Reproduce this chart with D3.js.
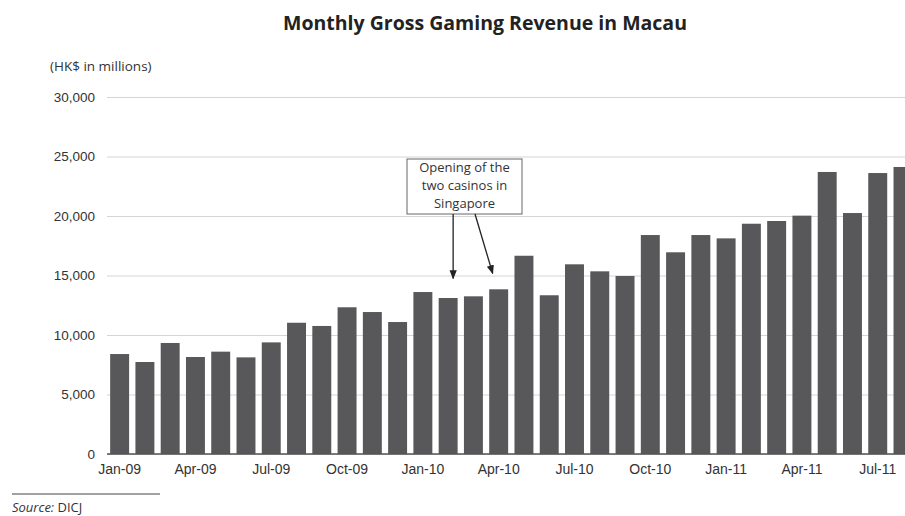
<!DOCTYPE html>
<html lang="en">
<head>
<meta charset="UTF-8">
<title>Monthly Gross Gaming Revenue in Macau</title>
<style>
  html, body { margin: 0; padding: 0; background: #fff; }
  svg { display: block; font-family: "Open Sans", "Noto Sans", sans-serif; }
</style>
</head>
<body>
<div id="chart"></div>
<script src="https://d3js.org/d3.v7.min.js"></script>
<script>
// months shown, Jan-09 .. Aug-11
const months = [
  'Jan-09','Feb-09','Mar-09','Apr-09','May-09','Jun-09','Jul-09','Aug-09','Sep-09','Oct-09','Nov-09','Dec-09',
  'Jan-10','Feb-10','Mar-10','Apr-10','May-10','Jun-10','Jul-10','Aug-10','Sep-10','Oct-10','Nov-10','Dec-10',
  'Jan-11','Feb-11','Mar-11','Apr-11','May-11','Jun-11','Jul-11','Aug-11'
];
// gross gaming revenue, HK$ millions
const revenue = [
  8400, 7730, 9330, 8150, 8600, 8120, 9380, 11030, 10760, 12330, 11930, 11090,
  13610, 13110, 13250, 13840, 16660, 13340, 15940, 15350, 14960, 18400, 16950, 18400,
  18120, 19350, 19580, 20030, 23700, 20250, 23610, 24120
];
const yTicks = [0, 5000, 10000, 15000, 20000, 25000, 30000];
const xTickLabels = ['Jan-09','Apr-09','Jul-09','Oct-09','Jan-10','Apr-10','Jul-10','Oct-10','Jan-11','Apr-11','Jul-11'];
const noteLines = ['Opening of the', 'two casinos in', 'Singapore'];
const noteTargets = ['Feb-10', 'Apr-10'];

const width = 905, height = 516;
const plotLeft = 107, plotTop = 97, plotBottom = 454;

const svg = d3.select('#chart').append('svg')
  .attr('width', width)
  .attr('height', height);

const x = d3.scaleBand()
  .domain(months)
  .range([plotLeft, plotLeft + 25.27 * months.length])
  .paddingInner(0.25)
  .paddingOuter(0.125);

const y = d3.scaleLinear()
  .domain([0, 30000])
  .range([plotBottom, plotTop]);

// title
svg.append('text')
  .attr('x', 485).attr('y', 30)
  .attr('text-anchor', 'middle')
  .attr('font-size', 19.5).attr('font-weight', 'bold')
  .attr('fill', '#222')
  .text('Monthly Gross Gaming Revenue in Macau');

svg.append('text')
  .attr('x', 50).attr('y', 71)
  .attr('font-size', 13.5).attr('fill', '#333')
  .text('(HK$ in millions)');

// gridlines + y labels
const yAxis = d3.axisLeft(y)
  .tickValues(yTicks)
  .tickSize(-(width - plotLeft))
  .tickPadding(12)
  .tickFormat(d3.format(','));

svg.append('g')
  .attr('transform', `translate(${plotLeft},0)`)
  .call(yAxis)
  .call(g => g.select('.domain').remove())
  .call(g => g.selectAll('.tick line').attr('stroke', '#d4d4d4'))
  .call(g => g.selectAll('.tick text').attr('font-size', 13.5).attr('fill', '#333').attr('font-family', null));

// bars
svg.append('g').selectAll('rect')
  .data(revenue)
  .join('rect')
  .attr('x', (d, i) => x(months[i]))
  .attr('y', d => y(d))
  .attr('width', x.bandwidth())
  .attr('height', d => y(0) - y(d))
  .attr('fill', '#58585a');

// baseline + month labels
const xAxis = d3.axisBottom(x)
  .tickValues(xTickLabels)
  .tickSize(0)
  .tickPadding(10);

svg.append('g')
  .attr('transform', `translate(0,${plotBottom})`)
  .call(xAxis)
  .call(g => g.select('.domain').attr('stroke', '#555').attr('stroke-width', 1.5)
    .attr('d', `M${plotLeft},0H${width}`))
  .call(g => g.selectAll('.tick text').attr('font-size', 14).attr('fill', '#333').attr('font-family', null));

// annotation
svg.append('defs').append('marker')
  .attr('id', 'arrow')
  .attr('viewBox', '0 0 10 10')
  .attr('refX', 9).attr('refY', 5)
  .attr('markerWidth', 7).attr('markerHeight', 7)
  .attr('orient', 'auto')
  .append('path')
  .attr('d', 'M0,1L10,5L0,9Z')
  .attr('fill', '#222');

const box = { x: 407, y: 159, w: 115, h: 55 };
svg.append('rect')
  .attr('x', box.x).attr('y', box.y)
  .attr('width', box.w).attr('height', box.h)
  .attr('fill', '#fff').attr('stroke', '#666');

svg.append('text')
  .attr('text-anchor', 'middle')
  .attr('font-size', 13).attr('fill', '#333')
  .selectAll('tspan')
  .data(noteLines)
  .join('tspan')
  .attr('x', box.x + box.w / 2)
  .attr('y', (d, i) => box.y + 13 + i * 17.8)
  .text(d => d);

svg.append('line')
  .attr('x1', x(noteTargets[0]) + x.bandwidth() / 2 + 5).attr('y1', box.y + box.h)
  .attr('x2', x(noteTargets[0]) + x.bandwidth() / 2 + 5).attr('y2', y(15000) + 3)
  .attr('stroke', '#222').attr('stroke-width', 1.3)
  .attr('marker-end', 'url(#arrow)');

svg.append('line')
  .attr('x1', 475).attr('y1', box.y + box.h)
  .attr('x2', x(noteTargets[1]) + x.bandwidth() / 2 - 6).attr('y2', y(15000) - 2)
  .attr('stroke', '#222').attr('stroke-width', 1.3)
  .attr('marker-end', 'url(#arrow)');

// source
svg.append('line')
  .attr('x1', 12).attr('x2', 160)
  .attr('y1', 494).attr('y2', 494)
  .attr('stroke', '#444').attr('stroke-width', 1);

const src = svg.append('text')
  .attr('x', 12).attr('y', 512)
  .attr('font-size', 13).attr('fill', '#333');
src.append('tspan').attr('font-style', 'italic').text('Source: ');
src.append('tspan').text('DICJ');
</script>
</body>
</html>
